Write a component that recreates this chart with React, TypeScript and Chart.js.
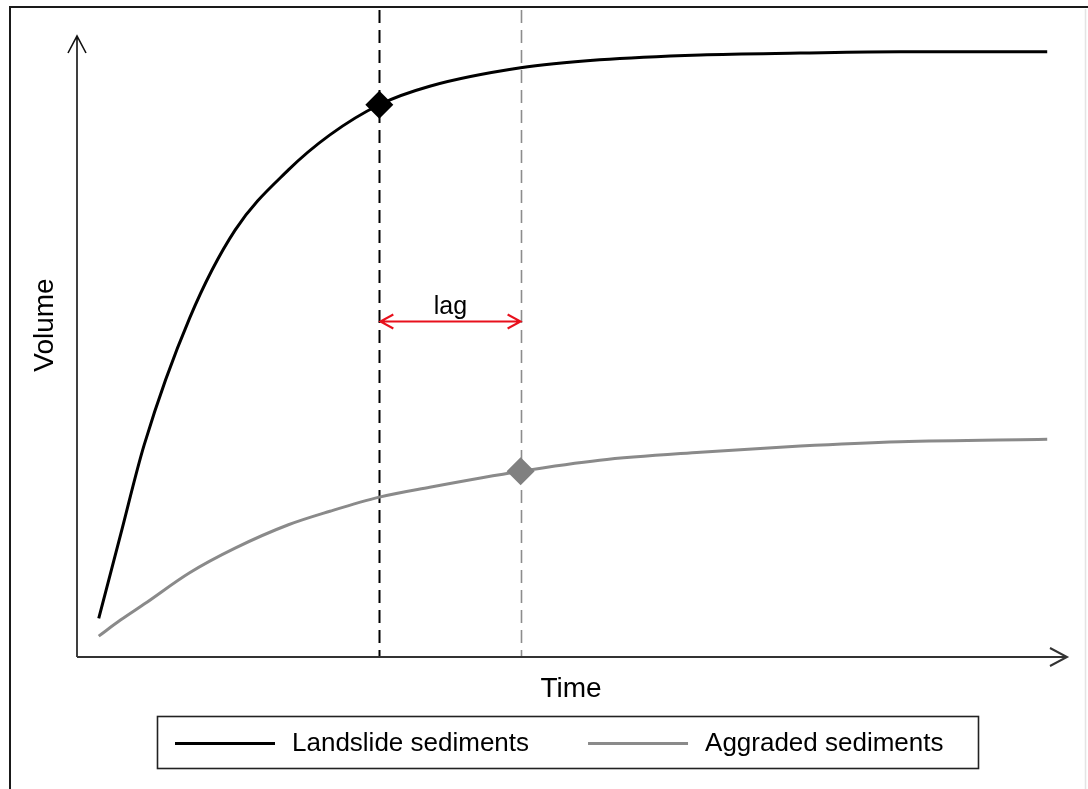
import React, { useEffect, useRef } from "react";
import { Chart, registerables } from "chart.js";

Chart.register(...registerables);

// ---- data ----
const timePoints = [2.2, 4.4, 6.8, 11.4, 16.0, 21.4, 25.6, 30.6, 35.7, 44.9, 52.9, 63.1, 73.2, 83.3, 98.2];
const landslideVolume = [6.3, 19.8, 34.5, 55.1, 69.4, 79.2, 84.9, 89.8, 92.8, 95.8, 97.1, 97.9, 98.2, 98.4, 98.4];
const aggradedVolume = [3.4, 6.0, 8.6, 13.7, 17.7, 21.5, 23.7, 26.0, 27.6, 30.2, 32.0, 33.3, 34.3, 35.0, 35.4];
const seriesLabels = ["Landslide sediments", "Aggraded sediments"];
const seriesColors = ["#000000", "#8a8a8a"];
const markerTimes = [30.6, 44.9];
const markerVolumes = [89.8, 30.2];
const lagVolume = 54.6;
const lagLabel = "lag";
const xTitle = "Time";
const yTitle = "Volume";

const FONT = "'Liberation Sans', Arial, sans-serif";

const decorPlugin = {
  id: "decor",
  beforeDraw(chart: any) {
    const ctx = chart.ctx;
    ctx.save();
    ctx.fillStyle = "#ffffff";
    ctx.fillRect(0, 0, chart.width, chart.height);
    // outer frame
    ctx.strokeStyle = "#e4e4e4";
    ctx.lineWidth = 1.5;
    ctx.beginPath();
    ctx.moveTo(1085.5, 9);
    ctx.lineTo(1085.5, chart.height);
    ctx.stroke();
    ctx.strokeStyle = "#1a1a1a";
    ctx.lineWidth = 2;
    ctx.beginPath();
    ctx.moveTo(10, chart.height);
    ctx.lineTo(10, 7);
    ctx.lineTo(chart.width, 7);
    ctx.stroke();
    ctx.restore();
  },
  beforeDatasetsDraw(chart: any) {
    const ctx = chart.ctx;
    const xs = chart.scales.x;
    const area = chart.chartArea;
    ctx.save();
    // dashed verticals
    const dashColors = ["#000000", "#8c8c8c"];
    const dashWidths = [2, 1.6];
    markerTimes.forEach((t, i) => {
      const px = Math.round(xs.getPixelForValue(t)) + 0.5;
      ctx.strokeStyle = dashColors[i];
      ctx.lineWidth = dashWidths[i];
      ctx.setLineDash([13, 7]);
      ctx.beginPath();
      ctx.moveTo(px, area.top - 32);
      ctx.lineTo(px, area.bottom);
      ctx.stroke();
    });
    ctx.setLineDash([]);
    // axes with arrows
    ctx.strokeStyle = "#111111";
    ctx.lineWidth = 1.6;
    const left = area.left;
    const bottom = area.bottom;
    const topTip = area.top - 6;
    const rightTip = area.right + 2;
    ctx.beginPath();
    ctx.moveTo(left, bottom);
    ctx.lineTo(left, topTip);
    ctx.moveTo(left - 9, topTip + 17);
    ctx.lineTo(left, topTip);
    ctx.lineTo(left + 9, topTip + 17);
    ctx.stroke();
    ctx.strokeStyle = "#333333";
    ctx.lineWidth = 2;
    ctx.beginPath();
    ctx.moveTo(left, bottom);
    ctx.lineTo(rightTip, bottom);
    ctx.moveTo(rightTip - 17, bottom - 9);
    ctx.lineTo(rightTip, bottom);
    ctx.lineTo(rightTip - 17, bottom + 9);
    ctx.stroke();
    ctx.restore();
  },
  afterDraw(chart: any) {
    const ctx = chart.ctx;
    const xs = chart.scales.x;
    const ys = chart.scales.y;
    const area = chart.chartArea;
    ctx.save();
    // lag arrow
    const x1 = xs.getPixelForValue(markerTimes[0]) + 1;
    const x2 = xs.getPixelForValue(markerTimes[1]);
    const ly = Math.round(ys.getPixelForValue(lagVolume)) + 0.5;
    ctx.strokeStyle = "#e8101c";
    ctx.lineWidth = 2;
    ctx.beginPath();
    ctx.moveTo(x1, ly);
    ctx.lineTo(x2, ly);
    ctx.moveTo(x1 + 13, ly - 7);
    ctx.lineTo(x1, ly);
    ctx.lineTo(x1 + 13, ly + 7);
    ctx.moveTo(x2 - 13, ly - 7);
    ctx.lineTo(x2, ly);
    ctx.lineTo(x2 - 13, ly + 7);
    ctx.stroke();
    ctx.fillStyle = "#000000";
    ctx.font = `25px ${FONT}`;
    ctx.textAlign = "center";
    ctx.textBaseline = "alphabetic";
    ctx.fillText(lagLabel, (x1 + x2) / 2, ly - 8);
    // axis titles
    ctx.font = `28px ${FONT}`;
    ctx.textBaseline = "middle";
    ctx.fillText(xTitle, (area.left + area.right) / 2, 689);
    ctx.save();
    ctx.translate(45, 325);
    ctx.rotate(-Math.PI / 2);
    ctx.fillText(yTitle, 0, 0);
    ctx.restore();
    // legend
    const boxL = 157.5, boxT = 716.5, boxW = 821, boxH = 52;
    ctx.strokeStyle = "#222222";
    ctx.lineWidth = 1.6;
    ctx.strokeRect(boxL, boxT, boxW, boxH);
    ctx.font = `26px ${FONT}`;
    ctx.textAlign = "left";
    ctx.textBaseline = "middle";
    const cy = boxT + 27;
    let cx = 175;
    const widths = [3, 3];
    seriesLabels.forEach((lab, i) => {
      ctx.strokeStyle = seriesColors[i];
      ctx.lineWidth = widths[i];
      ctx.beginPath();
      ctx.moveTo(cx, cy);
      ctx.lineTo(cx + 100, cy);
      ctx.stroke();
      ctx.fillStyle = "#000000";
      ctx.fillText(lab, cx + 117, cy);
      cx = cx + 117 + ctx.measureText(lab).width + 59;
    });
    ctx.restore();
  },
};

export default function App() {
  const ref = useRef<HTMLCanvasElement | null>(null);
  useEffect(() => {
    if (!ref.current) return;
    const chart = new Chart(ref.current, {
      type: "line",
      data: {
        datasets: [
          {
            label: seriesLabels[0],
            data: timePoints.map((t, i) => ({ x: t, y: landslideVolume[i] })),
            borderColor: seriesColors[0],
            borderWidth: 3,
            pointRadius: 0,
            cubicInterpolationMode: "monotone",
            fill: false,
            order: 2,
          },
          {
            label: seriesLabels[1],
            data: timePoints.map((t, i) => ({ x: t, y: aggradedVolume[i] })),
            borderColor: seriesColors[1],
            borderWidth: 3,
            pointRadius: 0,
            cubicInterpolationMode: "monotone",
            fill: false,
            order: 2,
          },
          {
            label: "markers",
            data: markerTimes.map((t, i) => ({ x: t, y: markerVolumes[i] })),
            showLine: false,
            pointStyle: "rectRot",
            pointRadius: 14,
            pointBackgroundColor: [seriesColors[0], "#808080"],
            pointBorderColor: [seriesColors[0], "#808080"],
            pointBorderWidth: 0,
            order: 1,
          },
        ],
      } as any,
      options: {
        animation: false,
        responsive: false,
        events: [],
        layout: { padding: { left: 77, right: 23, top: 42, bottom: 132 } },
        scales: {
          x: { type: "linear", min: 0, max: 100, display: false },
          y: { type: "linear", min: 0, max: 100, display: false },
        },
        plugins: {
          legend: { display: false },
          tooltip: { enabled: false },
        },
      } as any,
      plugins: [decorPlugin],
    });
    return () => chart.destroy();
  }, []);
  return (
    <div style={{ position: "absolute", left: 0, top: 0, width: 1088, height: 789 }}>
      <canvas ref={ref} width={1088} height={789} style={{ display: "block" }} />
    </div>
  );
}
